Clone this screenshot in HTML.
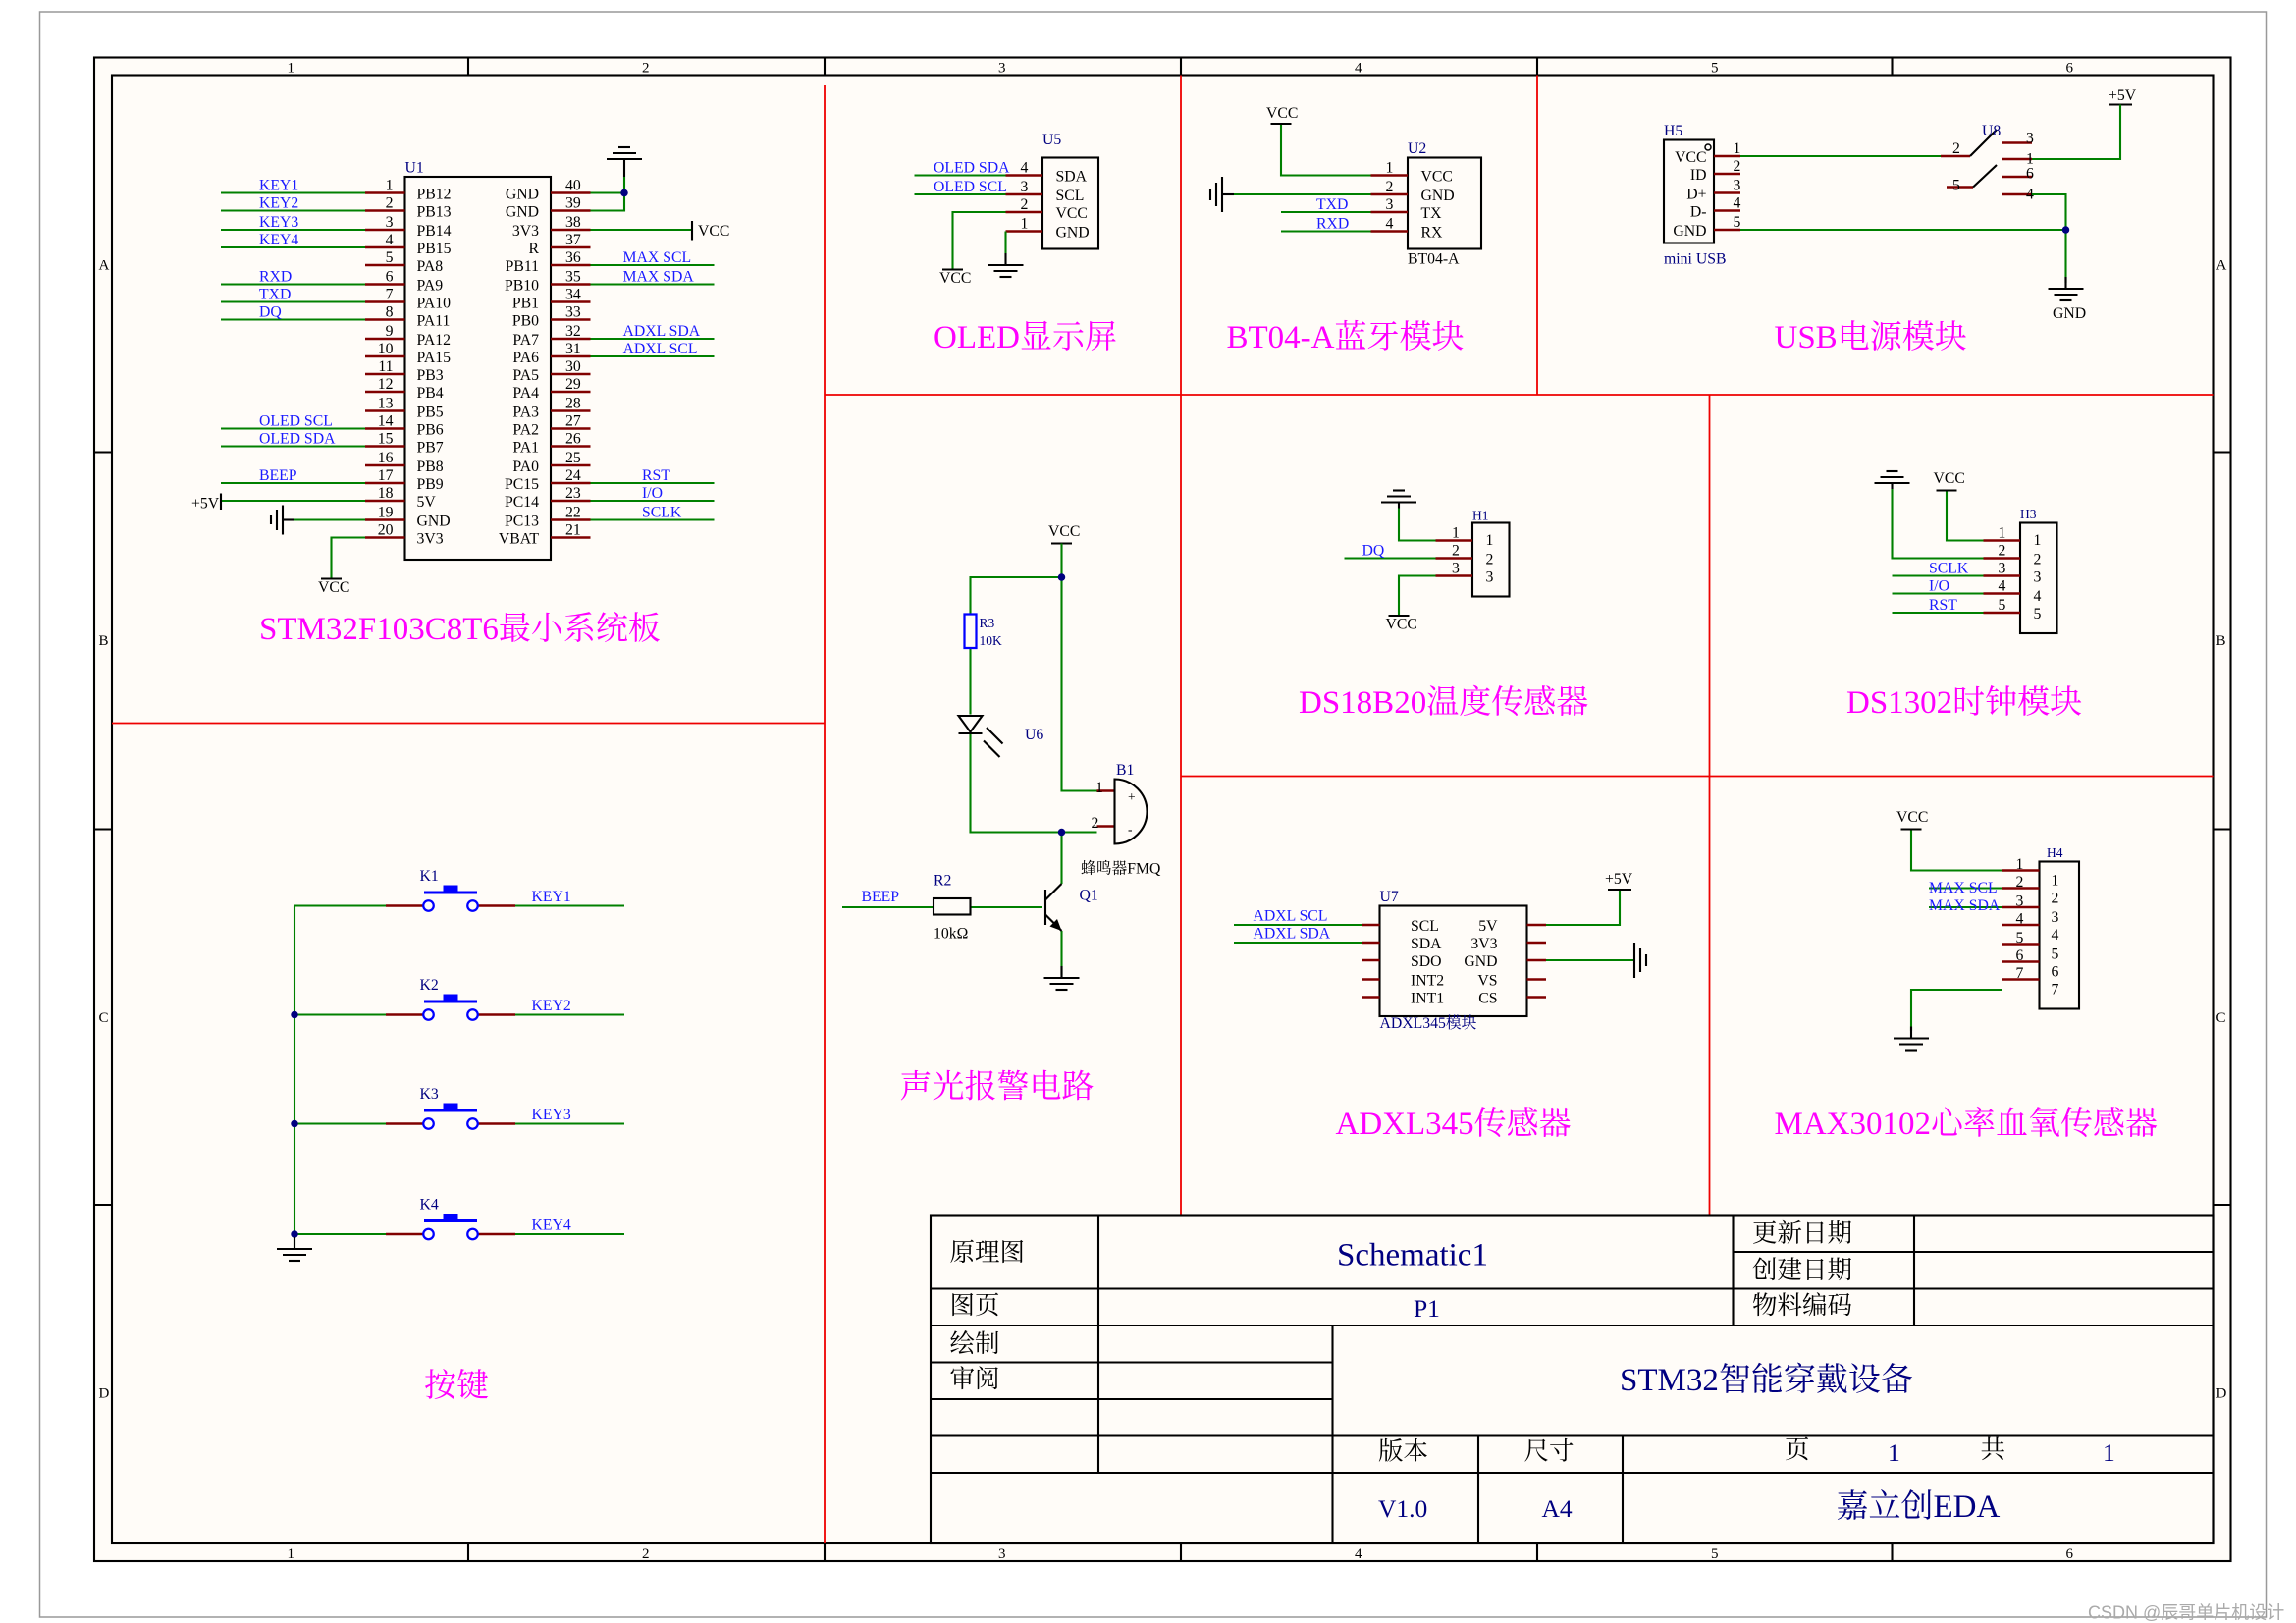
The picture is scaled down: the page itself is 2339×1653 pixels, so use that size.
<!DOCTYPE html><html><head><meta charset="utf-8"><style>
body{margin:0;background:#fff}
svg{display:block;font-size:10.5px;font-family:"Liberation Serif","Noto Serif CJK SC",serif}
.p{stroke:#800000;stroke-width:1.6}
.w{stroke:#008000;stroke-width:1.4;fill:none}
.k{stroke:#000;stroke-width:1.4;fill:none}
.r{stroke:#e00;stroke-width:1.2}
.bl{fill:#1a1aff}.nv{fill:#000080}.mg{fill:#f0f;font-size:22px}
.n{fill:#000080}
</style></head><body>
<svg width="2339" height="1653" viewBox="0 0 1559.33 1102" xmlns="http://www.w3.org/2000/svg">
<defs>
<g id="gd"><line x1="0" y1="0" x2="0" y2="8" class="k"/><line x1="-12" y1="8" x2="12" y2="8" class="k"/><line x1="-8" y1="12" x2="8" y2="12" class="k"/><line x1="-4" y1="16" x2="4" y2="16" class="k"/></g>
</defs>
<rect x="27" y="8" width="1512" height="1090" fill="#fff" stroke="#999" stroke-width="1"/>
<rect x="64" y="39" width="1451" height="1021" fill="#fffcf8" stroke="#000" stroke-width="1.4"/>
<rect x="76" y="51" width="1427" height="997" fill="#fffcf8" stroke="#000" stroke-width="1.4"/>
<g class="k" stroke-width="1">
<line x1="318" y1="39" x2="318" y2="51"/><line x1="560" y1="39" x2="560" y2="51"/><line x1="802" y1="39" x2="802" y2="51"/><line x1="1044" y1="39" x2="1044" y2="51"/><line x1="1285" y1="39" x2="1285" y2="51"/>
<line x1="318" y1="1048" x2="318" y2="1060"/><line x1="560" y1="1048" x2="560" y2="1060"/><line x1="802" y1="1048" x2="802" y2="1060"/><line x1="1044" y1="1048" x2="1044" y2="1060"/><line x1="1285" y1="1048" x2="1285" y2="1060"/>
<line x1="64" y1="307" x2="76" y2="307"/><line x1="64" y1="563" x2="76" y2="563"/><line x1="64" y1="818" x2="76" y2="818"/>
<line x1="1503" y1="307" x2="1515" y2="307"/><line x1="1503" y1="563" x2="1515" y2="563"/><line x1="1503" y1="818" x2="1515" y2="818"/>
</g>
<g font-size="10">
<text x="195" y="49">1</text><text x="436" y="49">2</text><text x="678" y="49">3</text><text x="920" y="49">4</text><text x="1162" y="49">5</text><text x="1403" y="49">6</text>
<text x="195" y="1058">1</text><text x="436" y="1058">2</text><text x="678" y="1058">3</text><text x="920" y="1058">4</text><text x="1162" y="1058">5</text><text x="1403" y="1058">6</text>
<text x="67" y="183">A</text><text x="67" y="438">B</text><text x="67" y="694">C</text><text x="67" y="949">D</text>
<text x="1505" y="183">A</text><text x="1505" y="438">B</text><text x="1505" y="694">C</text><text x="1505" y="949">D</text>
</g>
<g class="r">
<line x1="560" y1="58" x2="560" y2="1048"/><line x1="560" y1="268" x2="1503" y2="268"/><line x1="802" y1="51" x2="802" y2="825"/><line x1="1044" y1="51" x2="1044" y2="268"/><line x1="1161" y1="268" x2="1161" y2="825"/><line x1="76" y1="491" x2="560" y2="491"/><line x1="802" y1="527" x2="1503" y2="527"/>
</g>

<!-- U1 -->
<rect x="275" y="120" width="99" height="260" fill="none" stroke="#000" stroke-width="1.4"/>
<text x="275" y="117" class="n">U1</text>
<g class="p">
<line x1="248" y1="131" x2="275" y2="131"/><line x1="248" y1="143" x2="275" y2="143"/><line x1="248" y1="156" x2="275" y2="156"/><line x1="248" y1="168" x2="275" y2="168"/><line x1="248" y1="180" x2="275" y2="180"/><line x1="248" y1="193" x2="275" y2="193"/><line x1="248" y1="205" x2="275" y2="205"/><line x1="248" y1="217" x2="275" y2="217"/><line x1="248" y1="230" x2="275" y2="230"/><line x1="248" y1="242" x2="275" y2="242"/><line x1="248" y1="254" x2="275" y2="254"/><line x1="248" y1="266" x2="275" y2="266"/><line x1="248" y1="279" x2="275" y2="279"/><line x1="248" y1="291" x2="275" y2="291"/><line x1="248" y1="303" x2="275" y2="303"/><line x1="248" y1="316" x2="275" y2="316"/><line x1="248" y1="328" x2="275" y2="328"/><line x1="248" y1="340" x2="275" y2="340"/><line x1="248" y1="353" x2="275" y2="353"/><line x1="248" y1="365" x2="275" y2="365"/>
<line x1="374" y1="131" x2="401" y2="131"/><line x1="374" y1="143" x2="401" y2="143"/><line x1="374" y1="156" x2="401" y2="156"/><line x1="374" y1="168" x2="401" y2="168"/><line x1="374" y1="180" x2="401" y2="180"/><line x1="374" y1="193" x2="401" y2="193"/><line x1="374" y1="205" x2="401" y2="205"/><line x1="374" y1="217" x2="401" y2="217"/><line x1="374" y1="230" x2="401" y2="230"/><line x1="374" y1="242" x2="401" y2="242"/><line x1="374" y1="254" x2="401" y2="254"/><line x1="374" y1="266" x2="401" y2="266"/><line x1="374" y1="279" x2="401" y2="279"/><line x1="374" y1="291" x2="401" y2="291"/><line x1="374" y1="303" x2="401" y2="303"/><line x1="374" y1="316" x2="401" y2="316"/><line x1="374" y1="328" x2="401" y2="328"/><line x1="374" y1="340" x2="401" y2="340"/><line x1="374" y1="353" x2="401" y2="353"/><line x1="374" y1="365" x2="401" y2="365"/>
</g>
<g text-anchor="end">
<text x="267" y="129">1</text><text x="267" y="141">2</text><text x="267" y="154">3</text><text x="267" y="166">4</text><text x="267" y="178">5</text><text x="267" y="191">6</text><text x="267" y="203">7</text><text x="267" y="215">8</text><text x="267" y="228">9</text><text x="267" y="240">10</text><text x="267" y="252">11</text><text x="267" y="264">12</text><text x="267" y="277">13</text><text x="267" y="289">14</text><text x="267" y="301">15</text><text x="267" y="314">16</text><text x="267" y="326">17</text><text x="267" y="338">18</text><text x="267" y="351">19</text><text x="267" y="363">20</text>
<text x="366" y="135">GND</text><text x="366" y="147">GND</text><text x="366" y="160">3V3</text><text x="366" y="172">R</text><text x="366" y="184">PB11</text><text x="366" y="197">PB10</text><text x="366" y="209">PB1</text><text x="366" y="221">PB0</text><text x="366" y="234">PA7</text><text x="366" y="246">PA6</text><text x="366" y="258">PA5</text><text x="366" y="270">PA4</text><text x="366" y="283">PA3</text><text x="366" y="295">PA2</text><text x="366" y="307">PA1</text><text x="366" y="320">PA0</text><text x="366" y="332">PC15</text><text x="366" y="344">PC14</text><text x="366" y="357">PC13</text><text x="366" y="369">VBAT</text>
</g>
<g>
<text x="283" y="135">PB12</text><text x="283" y="147">PB13</text><text x="283" y="160">PB14</text><text x="283" y="172">PB15</text><text x="283" y="184">PA8</text><text x="283" y="197">PA9</text><text x="283" y="209">PA10</text><text x="283" y="221">PA11</text><text x="283" y="234">PA12</text><text x="283" y="246">PA15</text><text x="283" y="258">PB3</text><text x="283" y="270">PB4</text><text x="283" y="283">PB5</text><text x="283" y="295">PB6</text><text x="283" y="307">PB7</text><text x="283" y="320">PB8</text><text x="283" y="332">PB9</text><text x="283" y="344">5V</text><text x="283" y="357">GND</text><text x="283" y="369">3V3</text>
<text x="384" y="129">40</text><text x="384" y="141">39</text><text x="384" y="154">38</text><text x="384" y="166">37</text><text x="384" y="178">36</text><text x="384" y="191">35</text><text x="384" y="203">34</text><text x="384" y="215">33</text><text x="384" y="228">32</text><text x="384" y="240">31</text><text x="384" y="252">30</text><text x="384" y="264">29</text><text x="384" y="277">28</text><text x="384" y="289">27</text><text x="384" y="301">26</text><text x="384" y="314">25</text><text x="384" y="326">24</text><text x="384" y="338">23</text><text x="384" y="351">22</text><text x="384" y="363">21</text>
</g>
<g class="w">
<line x1="150" y1="131" x2="248" y2="131"/><line x1="150" y1="143" x2="248" y2="143"/><line x1="150" y1="156" x2="248" y2="156"/><line x1="150" y1="168" x2="248" y2="168"/><line x1="150" y1="193" x2="248" y2="193"/><line x1="150" y1="205" x2="248" y2="205"/><line x1="150" y1="217" x2="248" y2="217"/><line x1="150" y1="291" x2="248" y2="291"/><line x1="150" y1="303" x2="248" y2="303"/><line x1="150" y1="328" x2="248" y2="328"/><line x1="150" y1="340" x2="248" y2="340"/><line x1="200" y1="353" x2="248" y2="353"/>
<polyline points="248,365 225,365 225,393"/>
<polyline points="401,131 424,131"/><polyline points="401,143 424,143 424,120"/><line x1="401" y1="156" x2="470" y2="156"/>
<line x1="401" y1="180" x2="485" y2="180"/><line x1="401" y1="193" x2="485" y2="193"/><line x1="401" y1="230" x2="485" y2="230"/><line x1="401" y1="242" x2="485" y2="242"/><line x1="401" y1="328" x2="485" y2="328"/><line x1="401" y1="340" x2="485" y2="340"/><line x1="401" y1="353" x2="485" y2="353"/>
</g>
<circle cx="424" cy="131" r="2.5" fill="#000080"/>
<g class="k"><line x1="424" y1="120" x2="424" y2="108"/><line x1="412" y1="108" x2="436" y2="108"/><line x1="416" y1="104" x2="432" y2="104"/><line x1="420" y1="100" x2="428" y2="100"/>
<line x1="470" y1="150" x2="470" y2="163"/><line x1="150" y1="335" x2="150" y2="346"/>
<line x1="200" y1="353" x2="192" y2="353"/><line x1="192" y1="343" x2="192" y2="363"/><line x1="188" y1="346" x2="188" y2="360"/><line x1="184" y1="350" x2="184" y2="356"/>
<line x1="218" y1="393" x2="232" y2="393"/></g>
<g class="bl">
<text x="176" y="129">KEY1</text><text x="176" y="141">KEY2</text><text x="176" y="154">KEY3</text><text x="176" y="166">KEY4</text><text x="176" y="191">RXD</text><text x="176" y="203">TXD</text><text x="176" y="215">DQ</text><text x="176" y="289">OLED SCL</text><text x="176" y="301">OLED SDA</text><text x="176" y="326">BEEP</text>
<text x="423" y="178">MAX SCL</text><text x="423" y="191">MAX SDA</text><text x="423" y="228">ADXL SDA</text><text x="423" y="240">ADXL SCL</text><text x="436" y="326">RST</text><text x="436" y="338">I/O</text><text x="436" y="351">SCLK</text>
</g>
<text x="130" y="345">+5V</text><text x="474" y="160">VCC</text><text x="216" y="402">VCC</text>
<text x="176" y="434" class="mg">STM32F103C8T6最小系统板</text>

<!-- Keys -->
<g class="w"><line x1="200" y1="615" x2="200" y2="848"/>
<line x1="200" y1="615" x2="262" y2="615"/><line x1="200" y1="689" x2="262" y2="689"/><line x1="200" y1="763" x2="262" y2="763"/><line x1="200" y1="838" x2="262" y2="838"/>
<line x1="350" y1="615" x2="424" y2="615"/><line x1="350" y1="689" x2="424" y2="689"/><line x1="350" y1="763" x2="424" y2="763"/><line x1="350" y1="838" x2="424" y2="838"/></g>
<circle cx="200" cy="689" r="2.5" fill="#000080"/><circle cx="200" cy="763" r="2.5" fill="#000080"/><circle cx="200" cy="838" r="2.5" fill="#000080"/>
<use href="#gd" x="200" y="840"/>
<g id="key1">
<line x1="262" y1="615" x2="287" y2="615" class="p"/><line x1="325" y1="615" x2="350" y2="615" class="p"/>
<circle cx="291" cy="615" r="3.5" fill="none" stroke="#00f" stroke-width="1.5"/><circle cx="321" cy="615" r="3.5" fill="none" stroke="#00f" stroke-width="1.5"/>
<line x1="288" y1="606" x2="324" y2="606" stroke="#00f" stroke-width="2"/><rect x="301" y="601" width="10" height="4" fill="#00f"/>
</g>
<use href="#key1" y="74"/><use href="#key1" y="148"/><use href="#key1" y="223"/>
<g class="nv"><text x="285" y="598">K1</text><text x="285" y="672">K2</text><text x="285" y="746">K3</text><text x="285" y="821">K4</text></g>
<g class="bl"><text x="361" y="612">KEY1</text><text x="361" y="686">KEY2</text><text x="361" y="760">KEY3</text><text x="361" y="835">KEY4</text></g>
<text x="288" y="948" class="mg">按键</text>

<!-- OLED -->
<rect x="708" y="107" width="38" height="62" fill="none" stroke="#000" stroke-width="1.4"/>
<text x="708" y="98" class="n">U5</text>
<g class="p"><line x1="683" y1="119" x2="708" y2="119"/><line x1="683" y1="132" x2="708" y2="132"/><line x1="683" y1="144" x2="708" y2="144"/><line x1="683" y1="157" x2="708" y2="157"/></g>
<text x="693" y="117">4</text><text x="693" y="130">3</text><text x="693" y="142">2</text><text x="693" y="155">1</text>
<text x="717" y="123">SDA</text><text x="717" y="136">SCL</text><text x="717" y="148">VCC</text><text x="717" y="161">GND</text>
<g class="w"><line x1="621" y1="119" x2="683" y2="119"/><line x1="621" y1="132" x2="683" y2="132"/><polyline points="683,144 647,144 647,183"/><polyline points="683,157 683,172"/></g>
<line x1="640" y1="183" x2="654" y2="183" class="k"/><text x="638" y="192">VCC</text>
<use href="#gd" x="683" y="172"/>
<g class="bl"><text x="634" y="117">OLED SDA</text><text x="634" y="130">OLED SCL</text></g>
<text x="634" y="236" class="mg">OLED显示屏</text>

<!-- BT04 -->
<rect x="956" y="107" width="50" height="62" fill="none" stroke="#000" stroke-width="1.4"/>
<text x="956" y="104" class="n">U2</text><text x="956" y="179">BT04-A</text>
<g class="p"><line x1="931" y1="119" x2="956" y2="119"/><line x1="931" y1="132" x2="956" y2="132"/><line x1="931" y1="144" x2="956" y2="144"/><line x1="931" y1="157" x2="956" y2="157"/></g>
<text x="941" y="117">1</text><text x="941" y="130">2</text><text x="941" y="142">3</text><text x="941" y="155">4</text>
<text x="965" y="123">VCC</text><text x="965" y="136">GND</text><text x="965" y="148">TX</text><text x="965" y="161">RX</text>
<g class="w"><polyline points="931,119 870,119 870,84"/><line x1="931" y1="132" x2="838" y2="132"/><line x1="870" y1="144" x2="931" y2="144"/><line x1="870" y1="157" x2="931" y2="157"/></g>
<g class="k"><line x1="863" y1="84" x2="877" y2="84"/><line x1="838" y1="132" x2="830" y2="132"/><line x1="830" y1="120" x2="830" y2="144"/><line x1="826" y1="124" x2="826" y2="140"/><line x1="822" y1="128" x2="822" y2="136"/></g>
<text x="860" y="80">VCC</text>
<g class="bl"><text x="894" y="142">TXD</text><text x="894" y="155">RXD</text></g>
<text x="833" y="236" class="mg">BT04-A蓝牙模块</text>

<!-- USB -->
<rect x="1130" y="95" width="34" height="70" fill="none" stroke="#000" stroke-width="1.4"/>
<circle cx="1160" cy="100" r="2" fill="none" stroke="#000"/>
<text x="1130" y="92" class="n">H5</text><text x="1130" y="179" class="n">mini USB</text>
<g text-anchor="end"><text x="1159" y="110">VCC</text><text x="1159" y="122">ID</text><text x="1159" y="135">D+</text><text x="1159" y="147">D-</text><text x="1159" y="160">GND</text></g>
<g class="p"><line x1="1164" y1="106" x2="1182" y2="106"/><line x1="1164" y1="118" x2="1182" y2="118"/><line x1="1164" y1="131" x2="1182" y2="131"/><line x1="1164" y1="143" x2="1182" y2="143"/><line x1="1164" y1="156" x2="1182" y2="156"/>
<line x1="1318" y1="106" x2="1338" y2="106"/><line x1="1322" y1="127" x2="1340" y2="127"/><line x1="1360" y1="97" x2="1380" y2="97"/><line x1="1360" y1="108" x2="1380" y2="108"/><line x1="1360" y1="120" x2="1380" y2="120"/><line x1="1360" y1="132" x2="1380" y2="132"/></g>
<text x="1177" y="104">1</text><text x="1177" y="116">2</text><text x="1177" y="129">3</text><text x="1177" y="141">4</text><text x="1177" y="154">5</text>
<text x="1326" y="104">2</text><text x="1326" y="129">5</text><text x="1376" y="97">3</text><text x="1376" y="111">1</text><text x="1376" y="121">6</text><text x="1376" y="135">4</text>
<g class="k" stroke-width="1.2"><line x1="1338" y1="106" x2="1356" y2="88"/><line x1="1340" y1="127" x2="1356" y2="112"/><line x1="1432" y1="71" x2="1448" y2="71"/></g>
<g class="w"><line x1="1182" y1="106" x2="1318" y2="106"/><line x1="1182" y1="156" x2="1403" y2="156"/><polyline points="1380,108 1440,108 1440,71"/><polyline points="1380,132 1403,132 1403,192"/></g>
<circle cx="1403" cy="156" r="2.5" fill="#000080"/>
<use href="#gd" x="1403" y="188"/>
<text x="1394" y="216">GND</text><text x="1432" y="68">+5V</text>
<text x="1346" y="92" class="n">U8</text>
<text x="1205" y="236" class="mg">USB电源模块</text>

<!-- Alarm -->
<text x="712" y="364">VCC</text>
<g class="k"><line x1="714" y1="369" x2="728" y2="369"/></g>
<g class="w"><polyline points="721,369 721,537 745,537"/><polyline points="721,392 659,392 659,417"/><line x1="659" y1="440" x2="659" y2="485"/><polyline points="659,498 659,565 745,565"/><line x1="721" y1="565" x2="721" y2="600"/><line x1="572" y1="616" x2="634" y2="616"/><line x1="659" y1="616" x2="708" y2="616"/><line x1="721" y1="632" x2="721" y2="662"/></g>
<circle cx="721" cy="392" r="2.5" fill="#000080"/><circle cx="721" cy="565" r="2.5" fill="#000080"/>
<rect x="655" y="417" width="8" height="23" fill="none" stroke="#00f" stroke-width="1.5"/>
<text x="665" y="426" class="n" font-size="9">R3</text><text x="665" y="438" class="n" font-size="9">10K</text>
<polygon points="651,486 667,486 659,497" fill="none" stroke="#000" stroke-width="1.4"/><line x1="651" y1="498" x2="667" y2="498" class="k"/>
<g class="k" stroke-width="1.1"><line x1="670" y1="494" x2="681" y2="505"/><line x1="668" y1="503" x2="679" y2="514"/></g>
<text x="696" y="502" class="n">U6</text>
<g class="p"><line x1="745" y1="537" x2="757" y2="537"/><line x1="745" y1="561" x2="757" y2="561"/></g>
<path d="M757,529 A22,22 0 0 1 757,573 Z" fill="none" stroke="#000" stroke-width="1.4"/>
<text x="766" y="544" font-size="9">+</text><text x="766" y="566" font-size="9">-</text>
<text x="744" y="538">1</text><text x="741" y="562">2</text>
<text x="758" y="526" class="n">B1</text><text x="734" y="593">蜂鸣器FMQ</text>
<rect x="634" y="610" width="25" height="11" fill="none" stroke="#000" stroke-width="1.4"/>
<text x="634" y="601" class="n">R2</text><text x="634" y="637">10kΩ</text>
<g class="k"><line x1="710" y1="604" x2="710" y2="628"/><line x1="710" y1="611" x2="721" y2="600"/><line x1="710" y1="621" x2="721" y2="632"/></g>
<polygon points="721,632 713,629 718,624" fill="#000"/>
<use href="#gd" x="721" y="656"/>
<text x="733" y="611" class="n">Q1</text><text x="585" y="612" class="bl">BEEP</text>
<text x="611" y="745" class="mg">声光报警电路</text>

<!-- DS18B20 -->
<rect x="1000" y="355" width="25" height="50" fill="none" stroke="#000" stroke-width="1.4"/>
<text x="1000" y="353" class="n" font-size="9">H1</text>
<text x="1009" y="370">1</text><text x="1009" y="383">2</text><text x="1009" y="395">3</text>
<g class="p"><line x1="975" y1="367" x2="1000" y2="367"/><line x1="975" y1="379" x2="1000" y2="379"/><line x1="975" y1="391" x2="1000" y2="391"/></g>
<text x="986" y="365">1</text><text x="986" y="377">2</text><text x="986" y="389">3</text>
<g class="w"><polyline points="975,367 950,367 950,345"/><line x1="913" y1="379" x2="975" y2="379"/><polyline points="975,391 950,391 950,418"/></g>
<g class="k"><line x1="950" y1="345" x2="950" y2="341"/><line x1="938" y1="341" x2="962" y2="341"/><line x1="942" y1="337" x2="958" y2="337"/><line x1="946" y1="333" x2="954" y2="333"/><line x1="943" y1="418" x2="957" y2="418"/></g>
<text x="941" y="427">VCC</text><text x="925" y="377" class="bl">DQ</text>
<text x="882" y="484" class="mg">DS18B20温度传感器</text>

<!-- DS1302 -->
<rect x="1372" y="355" width="25" height="75" fill="none" stroke="#000" stroke-width="1.4"/>
<text x="1372" y="352" class="n" font-size="9">H3</text>
<text x="1381" y="370">1</text><text x="1381" y="383">2</text><text x="1381" y="395">3</text><text x="1381" y="408">4</text><text x="1381" y="420">5</text>
<g class="p"><line x1="1347" y1="367" x2="1372" y2="367"/><line x1="1347" y1="379" x2="1372" y2="379"/><line x1="1347" y1="391" x2="1372" y2="391"/><line x1="1347" y1="403" x2="1372" y2="403"/><line x1="1347" y1="416" x2="1372" y2="416"/></g>
<text x="1357" y="365">1</text><text x="1357" y="377">2</text><text x="1357" y="389">3</text><text x="1357" y="401">4</text><text x="1357" y="414">5</text>
<g class="w"><polyline points="1347,367 1322,367 1322,333"/><polyline points="1347,379 1285,379 1285,332"/><line x1="1285" y1="391" x2="1347" y2="391"/><line x1="1285" y1="403" x2="1347" y2="403"/><line x1="1285" y1="416" x2="1347" y2="416"/></g>
<g class="k"><line x1="1315" y1="333" x2="1329" y2="333"/><line x1="1285" y1="332" x2="1285" y2="328"/><line x1="1273" y1="328" x2="1297" y2="328"/><line x1="1277" y1="324" x2="1293" y2="324"/><line x1="1281" y1="320" x2="1289" y2="320"/></g>
<text x="1313" y="328">VCC</text>
<g class="bl"><text x="1310" y="389">SCLK</text><text x="1310" y="401">I/O</text><text x="1310" y="414">RST</text></g>
<text x="1254" y="484" class="mg">DS1302时钟模块</text>

<!-- ADXL345 -->
<rect x="937" y="615" width="100" height="75" fill="none" stroke="#000" stroke-width="1.4"/>
<text x="937" y="612" class="n">U7</text><text x="937" y="698" class="n">ADXL345模块</text>
<g class="p"><line x1="925" y1="628" x2="937" y2="628"/><line x1="925" y1="640" x2="937" y2="640"/><line x1="925" y1="652" x2="937" y2="652"/><line x1="925" y1="665" x2="937" y2="665"/><line x1="925" y1="677" x2="937" y2="677"/>
<line x1="1037" y1="628" x2="1050" y2="628"/><line x1="1037" y1="640" x2="1050" y2="640"/><line x1="1037" y1="652" x2="1050" y2="652"/><line x1="1037" y1="665" x2="1050" y2="665"/><line x1="1037" y1="677" x2="1050" y2="677"/></g>
<text x="958" y="632">SCL</text><text x="958" y="644">SDA</text><text x="958" y="656">SDO</text><text x="958" y="669">INT2</text><text x="958" y="681">INT1</text>
<g text-anchor="end"><text x="1017" y="632">5V</text><text x="1017" y="644">3V3</text><text x="1017" y="656">GND</text><text x="1017" y="669">VS</text><text x="1017" y="681">CS</text></g>
<g class="w"><line x1="838" y1="628" x2="925" y2="628"/><line x1="838" y1="640" x2="925" y2="640"/><polyline points="1050,628 1100,628 1100,604"/><line x1="1050" y1="652" x2="1110" y2="652"/></g>
<g class="k"><line x1="1092" y1="604" x2="1108" y2="604"/><line x1="1110" y1="640" x2="1110" y2="664"/><line x1="1114" y1="644" x2="1114" y2="660"/><line x1="1118" y1="648" x2="1118" y2="656"/></g>
<text x="1090" y="600">+5V</text>
<g class="bl"><text x="851" y="625">ADXL SCL</text><text x="851" y="637">ADXL SDA</text></g>
<text x="907" y="770" class="mg">ADXL345传感器</text>

<!-- MAX30102 -->
<rect x="1385" y="585" width="27" height="100" fill="none" stroke="#000" stroke-width="1.4"/>
<text x="1390" y="582" class="n" font-size="9">H4</text>
<text x="1393" y="601">1</text><text x="1393" y="613">2</text><text x="1393" y="626">3</text><text x="1393" y="638">4</text><text x="1393" y="651">5</text><text x="1393" y="663">6</text><text x="1393" y="675">7</text>
<g class="p"><line x1="1360" y1="591" x2="1385" y2="591"/><line x1="1360" y1="603" x2="1385" y2="603"/><line x1="1360" y1="616" x2="1385" y2="616"/><line x1="1360" y1="628" x2="1385" y2="628"/><line x1="1360" y1="641" x2="1385" y2="641"/><line x1="1360" y1="653" x2="1385" y2="653"/><line x1="1360" y1="665" x2="1385" y2="665"/></g>
<text x="1369" y="590">1</text><text x="1369" y="602">2</text><text x="1369" y="615">3</text><text x="1369" y="627">4</text><text x="1369" y="640">5</text><text x="1369" y="652">6</text><text x="1369" y="664">7</text>
<g class="w"><polyline points="1360,591 1298,591 1298,563"/><line x1="1310" y1="603" x2="1360" y2="603"/><line x1="1310" y1="616" x2="1360" y2="616"/><polyline points="1360,672 1298,672 1298,700"/></g>
<line x1="1291" y1="563" x2="1305" y2="563" class="k"/>
<use href="#gd" x="1298" y="697"/>
<text x="1288" y="558">VCC</text>
<g class="bl"><text x="1310" y="606">MAX SCL</text><text x="1310" y="618">MAX SDA</text></g>
<text x="1205" y="770" class="mg">MAX30102心率血氧传感器</text>

<!-- Title block -->
<g class="k" stroke-width="1.2">
<rect x="632" y="825" width="871" height="223"/>
<line x1="632" y1="875" x2="1503" y2="875"/><line x1="632" y1="900" x2="1503" y2="900"/><line x1="632" y1="925" x2="905" y2="925"/><line x1="632" y1="950" x2="905" y2="950"/><line x1="632" y1="975" x2="1503" y2="975"/><line x1="632" y1="1000" x2="1503" y2="1000"/><line x1="1177" y1="850" x2="1503" y2="850"/>
<line x1="746" y1="825" x2="746" y2="1000"/><line x1="905" y1="900" x2="905" y2="1048"/><line x1="1004" y1="975" x2="1004" y2="1048"/><line x1="1102" y1="975" x2="1102" y2="1048"/><line x1="1177" y1="825" x2="1177" y2="900"/><line x1="1300" y1="825" x2="1300" y2="900"/>
</g>
<g font-size="17">
<text x="645" y="856">原理图</text><text x="1190" y="843">更新日期</text><text x="1190" y="868">创建日期</text><text x="1190" y="892">物料编码</text>
<text x="645" y="892">图页</text><text x="645" y="918">绘制</text><text x="645" y="942">审阅</text>
<text x="936" y="991">版本</text><text x="1035" y="991">尺寸</text><text x="1212" y="990">页</text><text x="1345" y="990">共</text>
<text x="1282" y="992" class="nv">1</text><text x="1428" y="992" class="nv">1</text>
<text x="936" y="1030" class="nv">V1.0</text><text x="1047" y="1030" class="nv">A4</text>
<text x="960" y="894" class="nv">P1</text>
</g>
<text x="908" y="859" class="nv" font-size="22">Schematic1</text>
<text x="1100" y="944" class="nv" font-size="22">STM32智能穿戴设备</text>
<text x="1247" y="1030" class="nv" font-size="22">嘉立创EDA</text>
<text x="1418" y="1099" fill="#aaa" font-size="12" font-family="Liberation Sans,Noto Sans CJK SC,sans-serif">CSDN @辰哥单片机设计</text>
</svg>
</body></html>
